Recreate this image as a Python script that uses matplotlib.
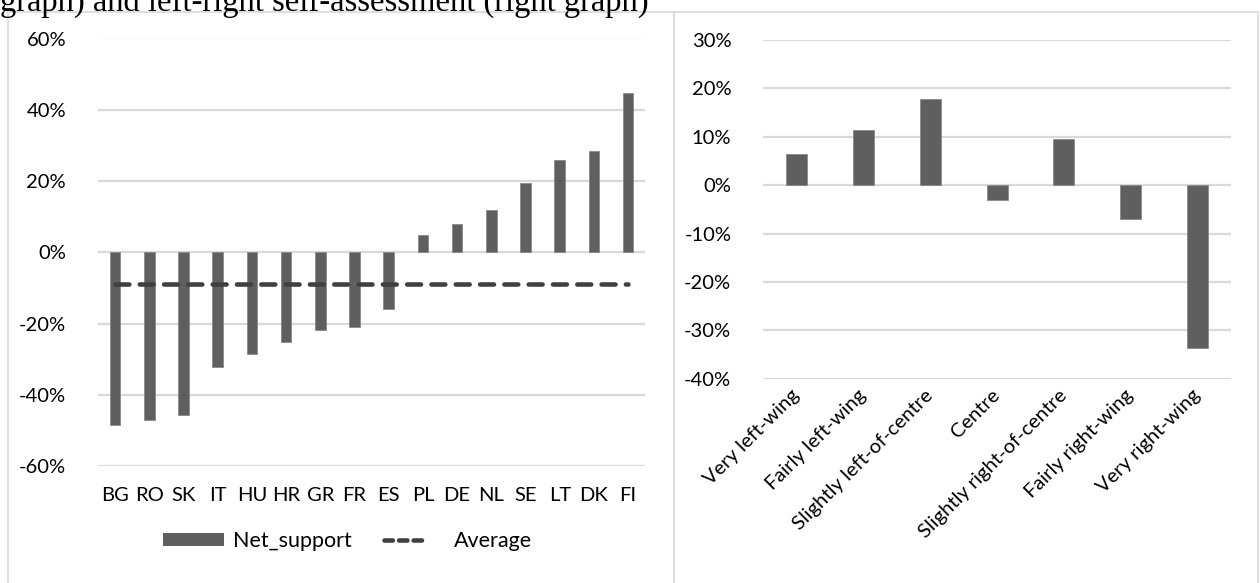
import matplotlib
matplotlib.use("Agg")
import matplotlib.pyplot as plt
from matplotlib.patches import Rectangle, Patch
from matplotlib.lines import Line2D
from matplotlib.legend_handler import HandlerLine2D
from matplotlib.ticker import FuncFormatter

plt.rcParams["font.family"] = ["Lato", "DejaVu Sans"]
plt.rcParams["lines.scale_dashes"] = False

# Net support by country (left) and by left-right self-placement (right)
countries = ["BG", "RO", "SK", "IT", "HU", "HR", "GR", "FR", "ES",
             "PL", "DE", "NL", "SE", "LT", "DK", "FI"]
net_support = [-48.4, -47.1, -45.5, -32.1, -28.5, -25.0, -21.9, -21.0, -15.8,
               4.8, 8.0, 11.9, 19.4, 25.8, 28.5, 44.6]
average_value = -8.9

positions = ["Very left-wing", "Fairly left-wing", "Slightly left-of-centre",
             "Centre", "Slightly right-of-centre", "Fairly right-wing",
             "Very right-wing"]
position_support = [6.4, 11.4, 17.8, -3.1, 9.6, -6.9, -33.6]

left_ticks = [-60, -40, -20, 0, 20, 40, 60]
right_ticks = [-40, -30, -20, -10, 0, 10, 20, 30]

caption = "graph) and left-right self-assessment (right graph)"

BAR = "#5f5f5f"
GRID = "#d9d9d9"
AVG = "#404040"
W, H = 1260, 583
FS = 14.5


class ShortLineHandler(HandlerLine2D):
    """Legend line sample drawn over the left part of the handle box."""

    def create_artists(self, legend, orig_handle, xdescent, ydescent,
                       width, height, fontsize, trans):
        w = width * 0.68
        y = (height - ydescent) / 2
        line = Line2D([-xdescent, -xdescent + w], [y, y])
        self.update_prop(line, orig_handle, legend)
        line.set_transform(trans)
        return [line]


fig = plt.figure(figsize=(W / 100, H / 100), dpi=100)
fig.patch.set_facecolor("white")

# caption line running off the top edge
fig.text(0.0, 1 - 10.5 / H, caption, family=["Liberation Serif", "DejaVu Serif"],
         fontsize=23.5, ha="left", va="baseline", color="black")

# chart frames
for x0, x1 in [(8, 674), (674, 1258)]:
    fig.add_artist(Rectangle((x0 / W, -0.05), (x1 - x0) / W, 1.05 - 12 / H,
                             transform=fig.transFigure, fill=False,
                             edgecolor=GRID, linewidth=1.2))

pct = FuncFormatter(lambda v, _: f"{v:.0f}%")


def style_axes(ax, ticks):
    ax.set_ylim(ticks[0], ticks[-1])
    ax.set_yticks(ticks)
    ax.yaxis.set_major_formatter(pct)
    ax.yaxis.grid(True, color=GRID, linewidth=1.6)
    ax.set_axisbelow(True)
    for s in ax.spines.values():
        s.set_visible(False)
    ax.tick_params(axis="both", length=0, labelsize=FS, colors="black")
    ax.tick_params(axis="y", pad=23)
    ax.set_facecolor("none")


# left chart
axl = fig.add_axes([98 / W, 1 - 466.3 / H, 547.2 / W, 427.8 / H])
style_axes(axl, left_ticks)
xl = range(len(countries))
axl.bar(xl, net_support, width=0.31, color=BAR, edgecolor="#8a8a8a",
        linewidth=0.6, zorder=2)
axl.plot(xl, [average_value] * len(countries), color=AVG, linewidth=3.3,
         dashes=(10, 7.5), dash_capstyle="round", zorder=3)
axl.set_xlim(-0.5, len(countries) - 0.5)
axl.set_xticks(list(xl))
axl.set_xticklabels(countries)
axl.tick_params(axis="x", pad=15)

avg_handle = Line2D([0], [0], color=AVG, linewidth=3.3, dashes=(6, 4.5),
                    dash_capstyle="round")
handles = [Patch(facecolor=BAR, edgecolor="none"), avg_handle]
fig.legend(handles, ["Net_support", "Average"], loc="center",
           bbox_to_anchor=(348 / W, 1 - 541 / H), ncol=2, frameon=False,
           fontsize=15.5, handlelength=2.8, handleheight=0.58,
           columnspacing=1.5, handletextpad=0.45,
           handler_map={avg_handle: ShortLineHandler()})

# right chart
axr = fig.add_axes([763.3 / W, 1 - 378.8 / H, 467.7 / W, 338.8 / H])
style_axes(axr, right_ticks)
xr = range(len(positions))
axr.bar(xr, position_support, width=0.314, color=BAR, edgecolor="#8a8a8a",
        linewidth=0.6, zorder=2)
axr.set_xlim(-0.5, len(positions) - 0.5)
axr.set_xticks(list(xr))
axr.set_xticklabels(positions, rotation=45, ha="right", va="center",
                    rotation_mode="anchor")
axr.tick_params(axis="x", pad=10)

fig.savefig("out.png", dpi=100, facecolor="white")
